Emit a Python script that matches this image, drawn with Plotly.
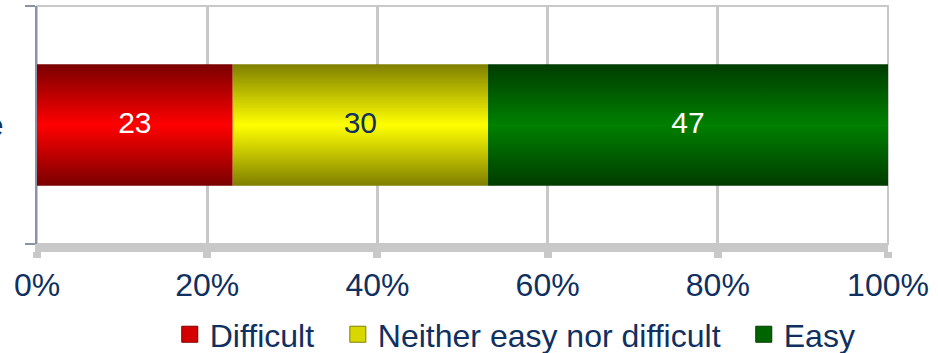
import plotly.graph_objects as go

# Survey responses (percent of respondents)
group_label = "Average"
categories = ["Difficult", "Neither easy nor difficult", "Easy"]
values = [23, 30, 47]

x_ticks = [0, 20, 40, 60, 80, 100]

# Styling
edge_colors = ["#7a0000", "#7f7f00", "#003c00"]
mid_colors = ["#ff0000", "#ffff00", "#008000"]
swatch_colors = ["#d40000", "#d8d800", "#006400"]
label_colors = ["#ffffff", "#10305f", "#ffffff"]
legend_x = [0.156, 0.3535, 0.8305]
navy = "#10305f"
font_family = "Liberation Sans, Arial, sans-serif"
half_thickness = 0.255

fig = go.Figure()

start = 0
for i, (name, val, edge, mid, sw, lc) in enumerate(zip(
        categories, values, edge_colors, mid_colors, swatch_colors, label_colors)):
    end = start + val
    # Bar segment with a vertical shaded fill
    fig.add_trace(go.Scatter(
        x=[start, end, end, start, start],
        y=[-half_thickness, -half_thickness, half_thickness, half_thickness, -half_thickness],
        mode="lines",
        line=dict(width=0, color=mid),
        fill="toself",
        fillgradient=dict(type="vertical",
                          colorscale=[[0, edge], [0.5, mid], [1, edge]]),
        showlegend=False,
        hoverinfo="skip",
    ))
    # Value label in the middle of the segment
    fig.add_trace(go.Scatter(
        x=[start + val / 2], y=[0],
        mode="text",
        text=[str(val)],
        textfont=dict(size=30, color=lc, family=font_family),
        showlegend=False,
        hoverinfo="skip",
    ))
    # Legend entry, each in its own legend box
    fig.add_trace(go.Scatter(
        x=[None], y=[None],
        mode="markers",
        name=name,
        legend="legend" if i == 0 else f"legend{i + 1}",
        marker=dict(symbol="square", size=16, color=sw,
                    line=dict(width=1, color=edge)),
    ))
    start = end

legend_common = dict(orientation="h", xanchor="left", y=-0.38, yanchor="middle",
                     font=dict(size=32, color=navy), itemsizing="trace",
                     bgcolor="rgba(0,0,0,0)", borderwidth=0)

fig.update_layout(
    width=938, height=353,
    margin=dict(l=37, r=50, t=6, b=109, autoexpand=False),
    paper_bgcolor="white",
    plot_bgcolor="white",
    font=dict(family=font_family, size=32, color=navy),
    showlegend=True,
    legend=dict(x=legend_x[0], **legend_common),
    legend2=dict(x=legend_x[1], **legend_common),
    legend3=dict(x=legend_x[2], **legend_common),
    xaxis=dict(
        range=[0, 100],
        tickvals=x_ticks,
        ticktext=[f"{v}%" for v in x_ticks],
        showgrid=True, gridcolor="#c8c8c8", gridwidth=3,
        showline=True, linecolor="#c8c8c8", linewidth=8,
        ticks="outside", ticklen=6, tickwidth=8, tickcolor="#c8c8c8",
        tickfont=dict(size=32, color=navy),
        zeroline=False, fixedrange=True, automargin=False,
    ),
    yaxis=dict(
        range=[-0.5, 0.5],
        tickvals=[0], ticktext=[group_label],
        ticks="", showgrid=False, zeroline=False,
        showline=True, linecolor="#8a92a6", linewidth=2,
        tickfont=dict(size=32, color=navy),
        ticklabelstandoff=25,
        minor=dict(tickvals=[-0.5, 0.5], ticks="outside", ticklen=10,
                   tickwidth=2, tickcolor="#8a92a6", showgrid=False),
        fixedrange=True, automargin=False,
    ),
    shapes=[dict(type="rect", xref="x domain", yref="y domain",
                 x0=0, x1=1, y0=0, y1=1,
                 line=dict(color="#c8c8c8", width=2), layer="below")],
)

fig.write_html("out.html")
